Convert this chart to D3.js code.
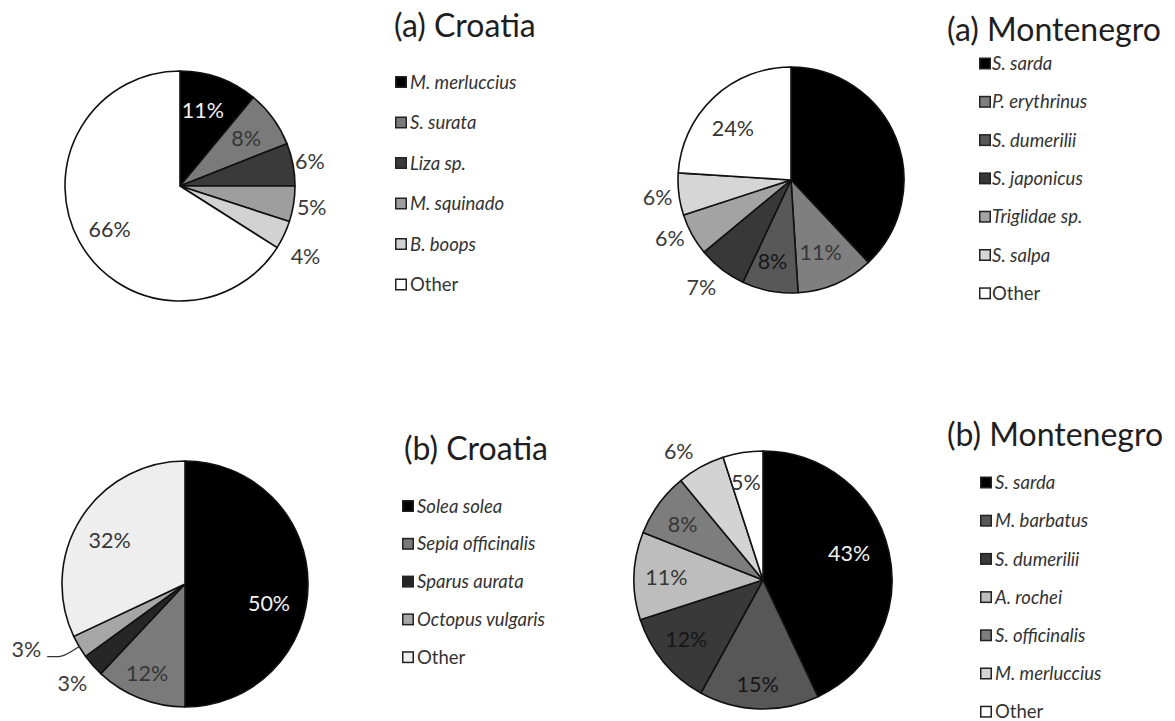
<!DOCTYPE html>
<html>
<head>
<meta charset="utf-8">
<script src="https://cdn.jsdelivr.net/npm/d3@7"></script>
<style>
  html, body { margin: 0; padding: 0; background: #ffffff; }
  svg { display: block; }
  text { font-family: Lato, "Open Sans", "DejaVu Sans", sans-serif; }
</style>
</head>
<body>
<svg id="chart" width="1175" height="721"></svg>
<script>
// (a) Croatia
const croatiaASpecies = ["M. merluccius", "S. surata", "Liza sp.", "M. squinado", "B. boops", "Other"];
const croatiaAValues = [11, 8, 6, 5, 4, 66];
const croatiaAColors = ["#000000", "#7a7a7a", "#3a3a3a", "#9e9e9e", "#d2d2d2", "#ffffff"];

// (a) Montenegro
const montenegroASpecies = ["S. sarda", "P. erythrinus", "S. dumerilii", "S. japonicus", "Triglidae sp.", "S. salpa", "Other"];
const montenegroAValues = [38, 11, 8, 7, 6, 6, 24];
const montenegroAColors = ["#000000", "#7f7f7f", "#585858", "#383838", "#a3a3a3", "#d6d6d6", "#ffffff"];

// (b) Croatia
const croatiaBSpecies = ["Solea solea", "Sepia officinalis", "Sparus aurata", "Octopus vulgaris", "Other"];
const croatiaBValues = [50, 12, 3, 3, 32];
const croatiaBColors = ["#000000", "#7a7a7a", "#262626", "#a6a6a6", "#eeeeee"];

// (b) Montenegro
const montenegroBSpecies = ["S. sarda", "M. barbatus", "S. dumerilii", "A. rochei", "S. officinalis", "M. merluccius", "Other"];
const montenegroBValues = [43, 15, 12, 11, 8, 6, 5];
const montenegroBColors = ["#000000", "#575757", "#393939", "#bdbdbd", "#7d7d7d", "#d3d3d3", "#ffffff"];

const svg = d3.select("#chart");

const pie = d3.pie().sort(null).value(d => d);

// Label ink: light on black slices, near-black on dark slices, grey elsewhere.
function labelInk(fill, inside) {
  const l = d3.hsl(fill).l;
  if (!inside) return "#3a3a3a";
  if (l < 0.1) return "#f2f2f2";
  if (l < 0.4) return "#161616";
  return "#363636";
}

// Draw one pie with its percentage labels.
// labelRadius: fraction of the radius where each label sits (null = no label)
// labelShift: angle offset in degrees applied to a label's mid-angle
function drawPie(opts) {
  const g = svg.append("g").attr("transform", `translate(${opts.cx},${opts.cy})`);
  const arcs = pie(opts.values);
  const arc = d3.arc().innerRadius(0).outerRadius(opts.r);

  g.selectAll("path.slice")
    .data(arcs)
    .join("path")
    .attr("class", "slice")
    .attr("d", arc)
    .attr("fill", (d, i) => opts.colors[i])
    .attr("stroke", "#111")
    .attr("stroke-width", 1.6)
    .attr("stroke-linejoin", "round");

  const polar = (angle, rad) => [Math.sin(angle) * rad, -Math.cos(angle) * rad];

  arcs.forEach((d, i) => {
    const k = opts.labelRadius[i];
    if (k == null) return;
    const mid = (d.startAngle + d.endAngle) / 2 + (opts.labelShift[i] || 0) * Math.PI / 180;
    let [x, y] = polar(mid, opts.r * k);
    let anchor = "middle";
    if (opts.leader && opts.leader[i]) {
      const start = polar(mid, opts.r * 0.99);
      const elbow = polar(mid, opts.r * 1.16);
      const end = [elbow[0] - 15, elbow[1]];
      g.append("path")
        .attr("d", d3.line().curve(d3.curveBasis)([start, [elbow[0] + 4, elbow[1] - 2], elbow, end]))
        .attr("fill", "none")
        .attr("stroke", "#333")
        .attr("stroke-width", 1.3);
      x = end[0] - 6;
      y = end[1] - 7;
      anchor = "end";
    }
    g.append("text")
      .attr("x", x)
      .attr("y", y)
      .attr("dy", "0.36em")
      .attr("text-anchor", anchor)
      .attr("font-size", 21.5)
      .attr("fill", labelInk(opts.colors[i], k < 1))
      .text(`${opts.values[i]}%`);
  });
}

// Title plus square-swatch legend.
function drawLegend(opts) {
  svg.append("text")
    .attr("x", opts.titleX)
    .attr("y", opts.titleY)
    .attr("font-size", 32)
    .attr("fill", "#1e1e1e")
    .text(opts.title);

  const y = d3.scaleLinear()
    .domain([0, opts.names.length - 1])
    .range([opts.rowTop, opts.rowTop + opts.rowStep * (opts.names.length - 1)]);

  const rows = svg.append("g").selectAll("g")
    .data(opts.names)
    .join("g")
    .attr("transform", (d, i) => `translate(${opts.x},${y(i)})`);

  rows.append("rect")
    .attr("x", 0.75)
    .attr("y", -5.25)
    .attr("width", 10.5)
    .attr("height", 10.5)
    .attr("fill", (d, i) => opts.colors[i])
    .attr("stroke", "#222")
    .attr("stroke-width", 1.5);

  rows.append("text")
    .attr("x", opts.textGap)
    .attr("dy", "0.36em")
    .attr("font-size", 18.5)
    .attr("font-style", d => d === "Other" ? "normal" : "italic")
    .attr("fill", "#333")
    .text(d => d);
}

drawPie({
  cx: 180, cy: 186, r: 115,
  values: croatiaAValues, colors: croatiaAColors,
  labelRadius: [0.69, 0.71, 1.15, 1.16, 1.25, 0.72],
  labelShift: [-3, 0, 0, 0, 4, -3]
});
drawLegend({
  title: "(a) Croatia", titleX: 394, titleY: 37,
  names: croatiaASpecies, colors: croatiaAColors,
  x: 395, rowTop: 82, rowStep: 40.5, textGap: 15
});

drawPie({
  cx: 791, cy: 180, r: 113,
  values: montenegroAValues, colors: montenegroAColors,
  labelRadius: [null, 0.69, 0.74, 1.24, 1.19, 1.19, 0.69],
  labelShift: [0, 1, 2, 2, 3, 0, -5]
});
drawLegend({
  title: "(a) Montenegro", titleX: 947, titleY: 41,
  names: montenegroASpecies, colors: montenegroAColors,
  x: 979, rowTop: 63.5, rowStep: 38.3, textGap: 13
});

drawPie({
  cx: 185, cy: 584, r: 123,
  values: croatiaBValues, colors: croatiaBColors,
  labelRadius: [0.7, 0.79, 1.22, 1.39, 0.71],
  labelShift: [12.6, 1.4, 0, 0, -2],
  leader: [false, false, false, true, false]
});
drawLegend({
  title: "(b) Croatia", titleX: 404, titleY: 460,
  names: croatiaBSpecies, colors: croatiaBColors,
  x: 402, rowTop: 506, rowStep: 37.8, textGap: 15
});

drawPie({
  cx: 763, cy: 580, r: 129,
  values: montenegroBValues, colors: montenegroBColors,
  labelRadius: [0.7, 0.81, 0.75, 0.75, 0.76, 1.19, 0.77],
  labelShift: [-4.8, 1.2, 2.1, 0, -1, -4.5, -1]
});
drawLegend({
  title: "(b) Montenegro", titleX: 947, titleY: 446,
  names: montenegroBSpecies, colors: montenegroBColors,
  x: 980, rowTop: 482.5, rowStep: 38.2, textGap: 15
});
</script>
</body>
</html>
